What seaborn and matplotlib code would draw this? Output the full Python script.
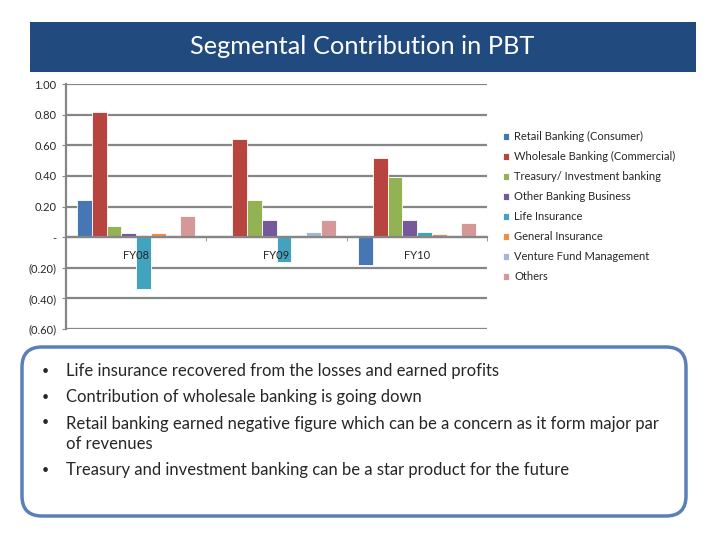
import matplotlib
matplotlib.use("Agg")
import matplotlib.pyplot as plt
from matplotlib.patches import FancyBboxPatch, Rectangle
from matplotlib.ticker import FuncFormatter, FixedLocator
import seaborn as sns
import pandas as pd

years = ["FY08", "FY09", "FY10"]
segments = [
    "Retail Banking (Consumer)",
    "Wholesale Banking (Commercial)",
    "Treasury/ Investment banking",
    "Other Banking Business",
    "Life Insurance",
    "General Insurance",
    "Venture Fund Management",
    "Others",
]
retail = [0.24, 0.00, -0.185]
wholesale = [0.82, 0.64, 0.52]
treasury = [0.07, 0.245, 0.39]
other_banking = [0.03, 0.11, 0.11]
life = [-0.34, -0.16, 0.035]
general = [0.025, 0.00, 0.02]
venture = [0.00, 0.035, 0.00]
others = [0.135, 0.11, 0.095]
colors = ["#4677B4", "#B7443F", "#93B253", "#76599B", "#42A3BE",
          "#EE8E45", "#A4B7D9", "#D69897"]

bullets = [
    "Life insurance recovered from the losses and earned profits",
    "Contribution of wholesale banking is going down",
    "Retail banking earned negative figure which can be a concern as it form major par\nof revenues",
    "Treasury and investment banking can be a star product for the future",
]

series = [retail, wholesale, treasury, other_banking, life, general, venture, others]
rows = []
for seg, vals in zip(segments, series):
    for yr, v in zip(years, vals):
        rows.append({"Year": yr, "Segment": seg, "Value": v})
df = pd.DataFrame(rows)

sns.set_style("white")
plt.rcParams["font.family"] = ["Lato", "DejaVu Sans"]

fig = plt.figure(figsize=(7.2, 5.4), dpi=100)

# title banner
fig.patches.append(Rectangle((0.30, 4.68), 6.66, 0.50, transform=fig.dpi_scale_trans,
                             facecolor="#214A7E", edgecolor="none"))
fig.text(0.503, 0.913, "Segmental Contribution in PBT", color="white",
         fontsize=18.3, ha="center", va="center")

ax = fig.add_axes([0.0917, 0.3907, 0.585, 0.4537])
sns.barplot(data=df, x="Year", y="Value", hue="Segment", order=years,
            hue_order=segments, palette=colors, width=0.84, saturation=1,
            edgecolor="white", linewidth=0.6, ax=ax)

ax.set_ylim(-0.6, 1.0)
ax.set_xlim(-0.5, 2.5)
ax.set_yticks([-0.6, -0.4, -0.2, 0, 0.2, 0.4, 0.6, 0.8, 1.0])


def fmt(v, pos):
    if abs(v) < 1e-9:
        return "-"
    if v < 0:
        return "(%.2f)" % abs(v)
    return "%.2f" % v


ax.yaxis.set_major_formatter(FuncFormatter(fmt))
ax.grid(axis="y", color="#868686", linewidth=1.6)
ax.set_axisbelow(True)
ax.xaxis.set_zorder(3)  # category labels sit on top of the bars
for s in ["top", "right"]:
    ax.spines[s].set_visible(False)
ax.spines["left"].set_color("#868686")
ax.spines["left"].set_linewidth(1.6)
ax.spines["bottom"].set_position(("data", 0))
ax.spines["bottom"].set_color("#868686")
ax.spines["bottom"].set_linewidth(1.6)
ax.tick_params(axis="y", labelsize=8, length=3, color="#868686", pad=4, left=True)
ax.tick_params(axis="x", which="major", labelsize=8, length=0, pad=9)
ax.xaxis.set_minor_locator(FixedLocator([0.5, 1.5, 2.5]))
ax.tick_params(axis="x", which="minor", length=3, color="#868686", bottom=True)
ax.set_xlabel("")
ax.set_ylabel("")

handles, labels = ax.get_legend_handles_labels()
ax.get_legend().remove()
fig.legend(handles, labels, loc="upper left", bbox_to_anchor=(0.692, 0.765),
           frameon=False, fontsize=8, handlelength=0.6, handleheight=0.6,
           handletextpad=0.45, labelspacing=0.81, borderaxespad=0)

# comment box
fig.patches.append(FancyBboxPatch((0.22, 0.24), 6.64, 1.69,
                                  boxstyle="round,pad=0,rounding_size=0.2",
                                  transform=fig.dpi_scale_trans,
                                  facecolor="white", edgecolor="#5B7FB8", linewidth=2.5))
ys = [371, 397, 434, 470]
dots = [371, 397, 422, 470]
for y, d, txt in zip(ys, dots, bullets):
    fig.text(42 / 720, 1 - d / 540, "\u2022", fontsize=9, ha="left", va="center")
    fig.text(66 / 720, 1 - y / 540, txt, fontsize=12, ha="left", va="center",
             linespacing=1.35)

fig.savefig("out.png", dpi=100)
